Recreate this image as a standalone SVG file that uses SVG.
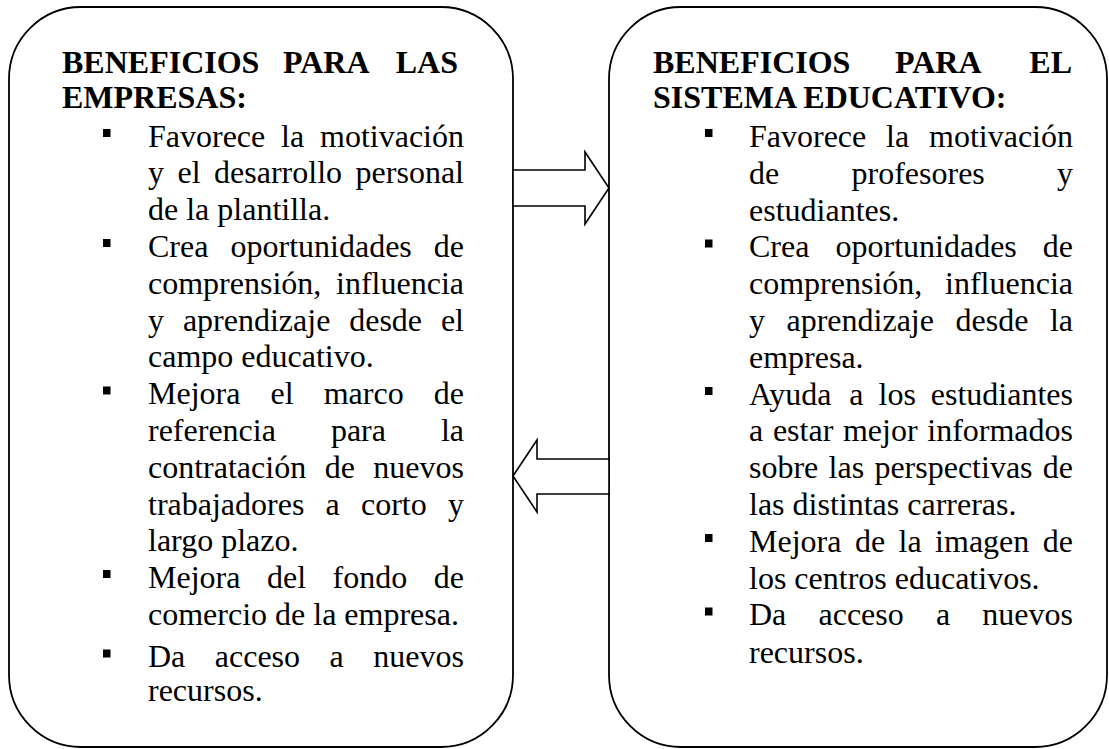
<svg xmlns="http://www.w3.org/2000/svg" width="1109" height="749" viewBox="0 0 1109 749">
<style>
.box{fill:#fff;stroke:#000;stroke-width:1.8}
.arr{fill:#fff;stroke:#000;stroke-width:1.6;stroke-linejoin:miter}
text{font-family:"Liberation Serif","Times New Roman",serif;font-size:32px;fill:#000}
.h{font-weight:bold}
.e{text-anchor:end}
.bul{fill:#000}
</style>
<rect width="1109" height="749" fill="#fff"/>
<g id="node-empresas">
<rect class="box" x="9" y="7" width="504" height="740" rx="72" ry="72"/>
<text class="h" y="73"><tspan x="62">BENEFICIOS</tspan><tspan x="283">PARA</tspan><tspan x="458" class="e">LAS</tspan></text>
<text class="h" x="62" y="107.5">EMPRESAS:</text>
<rect class="bul" x="103" y="129" width="7.5" height="8"/>
<text y="146.5"><tspan x="148">Favorece</tspan><tspan x="281.1">la</tspan><tspan x="464" class="e">motivación</tspan></text>
<text y="183.3"><tspan x="148">y</tspan><tspan x="177.5">el</tspan><tspan x="214.1">desarrollo</tspan><tspan x="464" class="e">personal</tspan></text>
<text x="148" y="220.1">de la plantilla.</text>
<rect class="bul" x="103" y="239" width="7.5" height="8"/>
<text y="256.9"><tspan x="148">Crea</tspan><tspan x="230.5">oportunidades</tspan><tspan x="464" class="e">de</tspan></text>
<text y="293.7"><tspan x="148">comprensión,</tspan><tspan x="464" class="e">influencia</tspan></text>
<text y="330.5"><tspan x="148">y</tspan><tspan x="182.9">aprendizaje</tspan><tspan x="349.2">desde</tspan><tspan x="464" class="e">el</tspan></text>
<text x="148" y="367.3">campo educativo.</text>
<rect class="bul" x="103" y="386.5" width="7.5" height="8"/>
<text y="404.1"><tspan x="148">Mejora</tspan><tspan x="270.5">el</tspan><tspan x="323.7">marco</tspan><tspan x="464" class="e">de</tspan></text>
<text y="440.9"><tspan x="148">referencia</tspan><tspan x="330.9">para</tspan><tspan x="464" class="e">la</tspan></text>
<text y="477.7"><tspan x="148">contratación</tspan><tspan x="324.7">de</tspan><tspan x="464" class="e">nuevos</tspan></text>
<text y="514.5"><tspan x="148">trabajadores</tspan><tspan x="325.6">a</tspan><tspan x="361">corto</tspan><tspan x="464" class="e">y</tspan></text>
<text x="148" y="551.3">largo plazo.</text>
<rect class="bul" x="103" y="570" width="7.5" height="8"/>
<text y="588.1"><tspan x="148">Mejora</tspan><tspan x="267">del</tspan><tspan x="332.6">fondo</tspan><tspan x="464" class="e">de</tspan></text>
<text x="148" y="624.9">comercio de la empresa.</text>
<rect class="bul" x="103" y="649.5" width="7.5" height="8"/>
<text y="667"><tspan x="148">Da</tspan><tspan x="214.8">acceso</tspan><tspan x="329.6">a</tspan><tspan x="464" class="e">nuevos</tspan></text>
<text x="148" y="701">recursos.</text>
</g>
<g id="node-sistema-educativo">
<rect class="box" x="609" y="7" width="498" height="740" rx="72" ry="72"/>
<text class="h" y="73"><tspan x="653">BENEFICIOS</tspan><tspan x="895">PARA</tspan><tspan x="1072" class="e">EL</tspan></text>
<text class="h" x="653" y="107.5">SISTEMA EDUCATIVO:</text>
<rect class="bul" x="705" y="129" width="7.5" height="8"/>
<text y="147"><tspan x="749">Favorece</tspan><tspan x="886.1">la</tspan><tspan x="1073" class="e">motivación</tspan></text>
<text y="183.8"><tspan x="749">de</tspan><tspan x="851.5">profesores</tspan><tspan x="1073" class="e">y</tspan></text>
<text x="749" y="220.6">estudiantes.</text>
<rect class="bul" x="705" y="239.5" width="7.5" height="8"/>
<text y="257.4"><tspan x="749">Crea</tspan><tspan x="835.5">oportunidades</tspan><tspan x="1073" class="e">de</tspan></text>
<text y="294.2"><tspan x="749">comprensión,</tspan><tspan x="1073" class="e">influencia</tspan></text>
<text y="331"><tspan x="749">y</tspan><tspan x="786.5">aprendizaje</tspan><tspan x="955.5">desde</tspan><tspan x="1073" class="e">la</tspan></text>
<text x="749" y="367.8">empresa.</text>
<rect class="bul" x="705" y="387" width="7.5" height="8"/>
<text y="404.6"><tspan x="749">Ayuda</tspan><tspan x="849.3">a</tspan><tspan x="878.5">los</tspan><tspan x="1073" class="e">estudiantes</tspan></text>
<text y="441.4"><tspan x="749">a</tspan><tspan x="772.9">estar</tspan><tspan x="842.9">mejor</tspan><tspan x="1073" class="e">informados</tspan></text>
<text y="478.2"><tspan x="749">sobre</tspan><tspan x="828.6">las</tspan><tspan x="874.4">perspectivas</tspan><tspan x="1073" class="e">de</tspan></text>
<text x="749" y="515">las distintas carreras.</text>
<rect class="bul" x="705" y="534" width="7.5" height="8"/>
<text y="551.8"><tspan x="749">Mejora</tspan><tspan x="854.9">de</tspan><tspan x="898.6">la</tspan><tspan x="935.1">imagen</tspan><tspan x="1073" class="e">de</tspan></text>
<text x="749" y="588.6">los centros educativos.</text>
<rect class="bul" x="705" y="607.5" width="7.5" height="8"/>
<text y="625.4"><tspan x="749">Da</tspan><tspan x="818.5">acceso</tspan><tspan x="936">a</tspan><tspan x="1073" class="e">nuevos</tspan></text>
<text x="749" y="663">recursos.</text>
</g>
<g id="connectors">
<polygon class="arr" points="513,170 585,170 585,152 609,188 585,224 585,206 513,206"/>
<polygon class="arr" points="609,459 537,459 537,440 513,476 537,512 537,494 609,494"/>
</g>
</svg>
